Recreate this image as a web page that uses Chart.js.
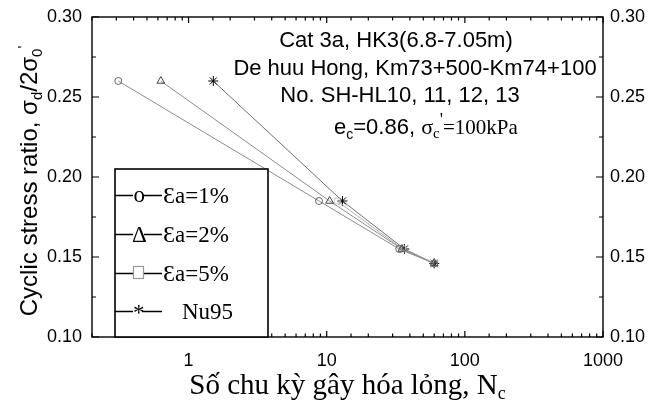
<!DOCTYPE html>
<html>
<head>
<meta charset="utf-8">
<script src="https://cdn.jsdelivr.net/npm/chart.js@4.4.1/dist/chart.umd.min.js"></script>
<style>
    html, body { margin: 0; padding: 0; background: #fff; }
</style>
</head>
<body>
<canvas id="csrChart" width="662" height="407"></canvas>
<script>
// values
const cyclesEa1 = [0.31, 8.8, 33.5, 60];
const csrEa1 = [0.26, 0.185, 0.155, 0.146];
const cyclesEa2 = [0.63, 10.5, 35, 60];
const csrEa2 = [0.26, 0.185, 0.155, 0.146];
const cyclesEa5 = [11.9, 35.5, 60];
const csrEa5 = [0.185, 0.155, 0.146];
const cyclesNu95 = [1.51, 13, 36.5, 60];
const csrNu95 = [0.26, 0.185, 0.155, 0.146];

const xTickLabels = [1, 10, 100, 1000];
const yTickLabels = [0.10, 0.15, 0.20, 0.25, 0.30];
const legendLabels = ['a=1%', 'a=2%', 'a=5%', 'Nu95'];
const noteLines = ['Cat 3a, HK3(6.8-7.05m)', 'De huu Hong, Km73+500-Km74+100', 'No. SH-HL10, 11, 12, 13'];

const SANS = "Arial, 'Liberation Sans', sans-serif";
const SERIF = "'Times New Roman', 'Liberation Serif', serif";

const toPoints = (xs, ys) => xs.map((x, i) => ({ x: x, y: ys[i] }));
const isLabelled = (v, list) => list.some(t => Math.abs(v - t) / t < 1e-6);

function drawRich(ctx, parts, x, y, align) {
    let total = 0;
    parts.forEach(p => {
        ctx.font = p.font;
        p.w = ctx.measureText(p.text).width;
        total += p.w;
    });
    let cx = align === 'center' ? x - total / 2 : x;
    parts.forEach(p => {
        ctx.font = p.font;
        ctx.fillText(p.text, cx, y + (p.dy || 0));
        cx += p.w;
    });
}

// frame, inward ticks, legend box and text notes
const decorations = {
    id: 'decorations',
    afterDraw(chart) {
        const ctx = chart.ctx;
        const ca = chart.chartArea;
        const sx = chart.scales.x;
        const sy = chart.scales.y;
        const L = ca.left, R = ca.right, T = ca.top, B = ca.bottom;

        ctx.save();
        ctx.strokeStyle = '#000';
        ctx.lineWidth = 1.2;
        ctx.beginPath();
        sx.ticks.forEach(t => {
            const px = sx.getPixelForValue(t.value);
            const len = isLabelled(t.value, xTickLabels) ? 6 : 3.5;
            ctx.moveTo(px, B); ctx.lineTo(px, B - len);
            ctx.moveTo(px, T); ctx.lineTo(px, T + len);
        });
        sy.ticks.forEach(t => {
            const py = sy.getPixelForValue(t.value);
            const len = isLabelled(t.value, yTickLabels) ? 7 : 4;
            ctx.moveTo(L, py); ctx.lineTo(L + len, py);
            ctx.moveTo(R, py); ctx.lineTo(R - len, py);
        });
        ctx.stroke();
        ctx.lineWidth = 1.4;
        ctx.strokeRect(L, T, R - L, B - T);

        // legend box
        const bx = L + 23, by = T + 152, bw = 153, bh = B - by;
        ctx.fillStyle = '#fff';
        ctx.fillRect(bx, by, bw, bh);
        ctx.lineWidth = 1.6;
        ctx.strokeRect(bx, by, bw, bh);

        const rows = [203, 242, 281, 319];
        ctx.fillStyle = '#000';
        ctx.lineWidth = 1.3;
        rows.forEach((base, i) => {
            const ly = base - 7.5;
            const mx = bx + 18;
            ctx.strokeStyle = '#000';
            ctx.beginPath();
            ctx.moveTo(bx, ly); ctx.lineTo(mx, ly);
            ctx.moveTo(mx + (i === 3 ? 9 : 11), ly); ctx.lineTo(bx + 47, ly);
            ctx.stroke();
            ctx.font = '23px ' + SERIF;
            if (i === 0) ctx.fillText('o', mx + 0.5, base - 1);
            if (i === 1) ctx.fillText('\u0394', mx - 1, base);
            if (i === 2) {
                ctx.strokeStyle = '#999';
                ctx.lineWidth = 1.2;
                ctx.strokeRect(mx + 0.5, base - 14.5, 10, 12);
                ctx.lineWidth = 1.3;
            }
            if (i === 3) ctx.fillText('*', mx, base + 1);
            if (i < 3) {
                drawRich(ctx, [
                    { text: '\u0190', font: '24px ' + SERIF },
                    { text: legendLabels[i], font: '23px ' + SERIF }
                ], bx + 48, base, 'left');
            } else {
                ctx.fillText(legendLabels[i], bx + 67, base);
            }
        });

        // notes at top right
        ctx.textBaseline = 'alphabetic';
        ctx.textAlign = 'left';
        const noteX = [396, 415, 400];
        const noteY = [47, 75, 102];
        noteLines.forEach((line, i) => {
            drawRich(ctx, [{ text: line, font: '22px ' + SANS }], noteX[i], noteY[i], 'center');
        });
        drawRich(ctx, [
            { text: 'e', font: '22px ' + SANS },
            { text: 'c', font: '14px ' + SANS, dy: 5 },
            { text: '=0.86, ', font: '22px ' + SANS },
            { text: '\u03c3', font: '22px ' + SERIF },
            { text: 'c', font: '15px ' + SERIF, dy: 4 },
            { text: '\'', font: '18px ' + SERIF, dy: -8 },
            { text: '=100kPa', font: '21px ' + SERIF }
        ], 334, 134, 'left');

        // axis titles
        drawRich(ctx, [
            { text: 'S\u1ed1 chu k\u1ef3 g\u00e2y h\u00f3a l\u1ecfng, N', font: '29px ' + SERIF },
            { text: 'c', font: '18px ' + SERIF, dy: 5 }
        ], (L + R) / 2, 394, 'center');

        ctx.translate(37, 181);
        ctx.rotate(-Math.PI / 2);
        drawRich(ctx, [
            { text: 'Cyclic stress ratio, \u03c3', font: '24px ' + SANS },
            { text: 'd', font: '15px ' + SANS, dy: 5 },
            { text: '/2\u03c3', font: '24px ' + SANS },
            { text: '0', font: '15px ' + SANS, dy: 5 },
            { text: '\'', font: '15px ' + SANS, dy: -9 }
        ], 0, 0, 'center');
        ctx.restore();
    }
};

const lineSet = (label, xs, ys, style, radius, pointColor, lineColor) => ({
    label: label,
    data: toPoints(xs, ys),
    showLine: true,
    tension: 0,
    borderColor: lineColor,
    borderWidth: 1,
    pointStyle: style,
    pointRadius: radius,
    pointBorderColor: pointColor,
    pointBackgroundColor: 'rgba(0,0,0,0)',
    pointBorderWidth: 1
});

const tickFont = { family: SANS, size: 18 };

// fixed axis widths, no extra label overhang so the plot box sits where the original does
const fitSide = width => scale => {
    scale.width = width;
    scale.paddingTop = 0;
    scale.paddingBottom = 0;
};

new Chart(document.getElementById('csrChart'), {
    type: 'scatter',
    data: {
        datasets: [
            lineSet('εa=1%', cyclesEa1, csrEa1, 'circle', 3.5, '#666', '#8c8c8c'),
            lineSet('εa=2%', cyclesEa2, csrEa2, 'triangle', 4.5, '#444', '#8c8c8c'),
            lineSet('εa=5%', cyclesEa5, csrEa5, 'rect', 4, '#c4c4c4', '#b0b0b0'),
            lineSet('Nu95', cyclesNu95, csrNu95, 'star', 5, '#000', '#6e6e6e')
        ]
    },
    options: {
        responsive: false,
        animation: false,
        layout: { padding: { top: 17 } },
        plugins: {
            legend: { display: false },
            tooltip: { enabled: false }
        },
        scales: {
            x: {
                type: 'logarithmic',
                position: 'bottom',
                min: 0.2,
                max: 1000,
                grid: { display: false, drawTicks: false },
                border: { display: false },
                afterFit: scale => { scale.height = 70; },
                ticks: {
                    autoSkip: false,
                    maxRotation: 0,
                    padding: 13,
                    color: '#000',
                    font: tickFont,
                    callback: v => isLabelled(v, xTickLabels) ? String(v) : ''
                }
            },
            y: {
                position: 'left',
                min: 0.1,
                max: 0.3,
                grid: { display: false, drawTicks: false },
                border: { display: false },
                afterFit: fitSide(92),
                ticks: {
                    stepSize: 0.025,
                    autoSkip: false,
                    padding: 10,
                    color: '#000',
                    font: tickFont,
                    callback: v => isLabelled(v, yTickLabels) ? v.toFixed(2) : ''
                }
            },
            y2: {
                position: 'right',
                min: 0.1,
                max: 0.3,
                grid: { display: false, drawTicks: false },
                border: { display: false },
                afterFit: fitSide(59),
                ticks: {
                    stepSize: 0.025,
                    autoSkip: false,
                    padding: 7,
                    color: '#000',
                    font: tickFont,
                    callback: v => isLabelled(v, yTickLabels) ? v.toFixed(2) : ''
                }
            }
        }
    },
    plugins: [decorations]
});
</script>
</body>
</html>
